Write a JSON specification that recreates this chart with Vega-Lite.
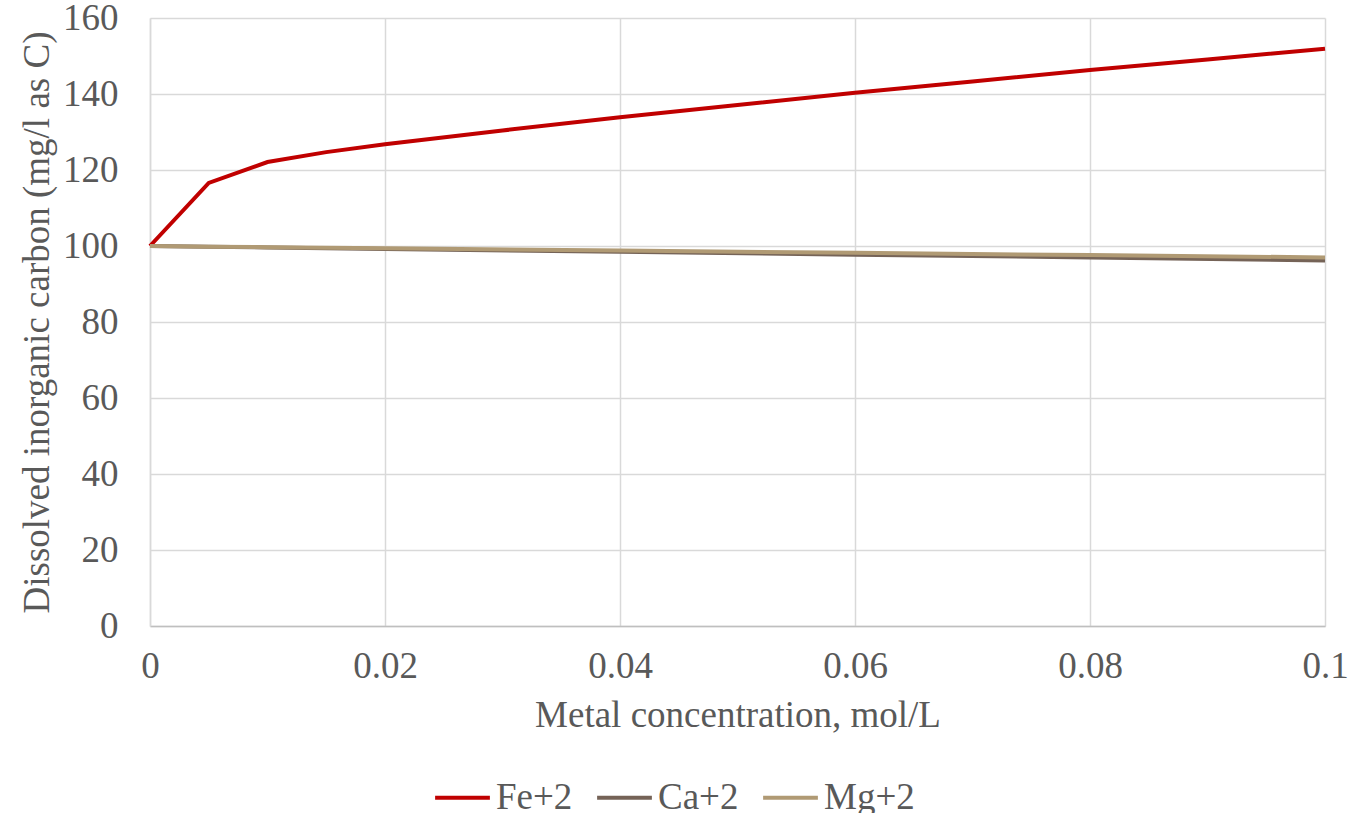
{
  "$schema": "https://vega.github.io/schema/vega-lite/v6.json",
  "width": 1175,
  "height": 608,
  "autosize": "none",
  "padding": {"left": 150, "top": 18, "right": 25, "bottom": 187},
  "background": "white",
  "config": {
    "font": "Liberation Serif",
    "view": {"stroke": null}
  },
  "data": {
    "values": [
      {"metal": "Fe+2", "conc": 0, "dic": 100},
      {"metal": "Fe+2", "conc": 0.005, "dic": 116.6},
      {"metal": "Fe+2", "conc": 0.01, "dic": 122.1},
      {"metal": "Fe+2", "conc": 0.015, "dic": 124.7},
      {"metal": "Fe+2", "conc": 0.02, "dic": 126.8},
      {"metal": "Fe+2", "conc": 0.03, "dic": 130.4},
      {"metal": "Fe+2", "conc": 0.04, "dic": 133.9},
      {"metal": "Fe+2", "conc": 0.05, "dic": 137.1},
      {"metal": "Fe+2", "conc": 0.06, "dic": 140.3},
      {"metal": "Fe+2", "conc": 0.07, "dic": 143.3},
      {"metal": "Fe+2", "conc": 0.08, "dic": 146.3},
      {"metal": "Fe+2", "conc": 0.09, "dic": 149.1},
      {"metal": "Fe+2", "conc": 0.1, "dic": 151.9},
      {"metal": "Ca+2", "conc": 0, "dic": 100},
      {"metal": "Ca+2", "conc": 0.005, "dic": 99.8},
      {"metal": "Ca+2", "conc": 0.01, "dic": 99.6},
      {"metal": "Ca+2", "conc": 0.02, "dic": 99.2},
      {"metal": "Ca+2", "conc": 0.04, "dic": 98.5},
      {"metal": "Ca+2", "conc": 0.06, "dic": 97.7},
      {"metal": "Ca+2", "conc": 0.08, "dic": 97.0},
      {"metal": "Ca+2", "conc": 0.1, "dic": 96.2},
      {"metal": "Mg+2", "conc": 0, "dic": 100},
      {"metal": "Mg+2", "conc": 0.005, "dic": 99.8},
      {"metal": "Mg+2", "conc": 0.01, "dic": 99.7},
      {"metal": "Mg+2", "conc": 0.02, "dic": 99.4},
      {"metal": "Mg+2", "conc": 0.04, "dic": 98.8},
      {"metal": "Mg+2", "conc": 0.06, "dic": 98.2},
      {"metal": "Mg+2", "conc": 0.08, "dic": 97.6},
      {"metal": "Mg+2", "conc": 0.1, "dic": 97.0}
    ]
  },
  "mark": {"type": "line", "strokeWidth": 4, "strokeCap": "butt"},
  "encoding": {
    "x": {
      "field": "conc",
      "type": "quantitative",
      "scale": {"domain": [0, 0.1], "nice": false},
      "axis": {
        "title": "Metal concentration, mol/L",
        "values": [0, 0.02, 0.04, 0.06, 0.08, 0.1],
        "labelExpr": "datum.value == 0 ? '0' : format(datum.value, '.2~f')",
        "grid": true,
        "gridColor": "#D9D9D9",
        "gridWidth": 1.5,
        "domainColor": "#BFBFBF",
        "domainWidth": 1.5,
        "ticks": false,
        "labelFontSize": 37,
        "labelColor": "#595959",
        "labelPadding": 22,
        "labelFlush": false,
        "titleFontSize": 37,
        "titleFontWeight": "normal",
        "titleColor": "#595959",
        "titlePadding": 13
      }
    },
    "y": {
      "field": "dic",
      "type": "quantitative",
      "scale": {"domain": [0, 160], "nice": false},
      "axis": {
        "title": "Dissolved inorganic carbon (mg/l as C)",
        "values": [0, 20, 40, 60, 80, 100, 120, 140, 160],
        "grid": true,
        "gridColor": "#D9D9D9",
        "gridWidth": 1.5,
        "domainColor": "#D9D9D9",
        "domainWidth": 1.5,
        "ticks": false,
        "labelFontSize": 37,
        "labelColor": "#595959",
        "labelPadding": 32,
        "titleFontSize": 37,
        "titleFontWeight": "normal",
        "titleColor": "#595959",
        "titlePadding": 6
      }
    },
    "color": {
      "field": "metal",
      "type": "nominal",
      "scale": {
        "domain": ["Fe+2", "Ca+2", "Mg+2"],
        "range": ["#C00000", "#756357", "#B09A74"]
      },
      "legend": {
        "title": null,
        "orient": "none",
        "legendX": 283,
        "legendY": 750,
        "direction": "horizontal",
        "symbolType": "stroke",
        "symbolSize": 3000,
        "symbolStrokeWidth": 4,
        "labelFontSize": 37,
        "labelColor": "#595959",
        "labelOffset": 4,
        "columnPadding": 16
      }
    }
  }
}
